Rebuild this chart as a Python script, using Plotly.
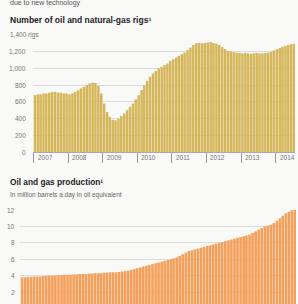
import plotly.graph_objects as go

# ---- data ----
years = [2007, 2008, 2009, 2010, 2011, 2012, 2013, 2014]
year_labels = ["2007", "2008", "2009", "2010", "2011", "2012", "2013", "2014"]

rigs = [
    680, 690, 690, 700, 700, 710, 720, 720, 710, 710, 700, 700,          # 2007
    690, 700, 720, 740, 760, 780, 800, 820, 830, 825, 790, 700,          # 2008
    580, 480, 420, 385, 380, 395, 430, 460, 500, 540, 580, 630,          # 2009
    680, 740, 800, 850, 900, 940, 970, 1000, 1020, 1040, 1060, 1090,     # 2010
    1110, 1130, 1150, 1170, 1190, 1220, 1250, 1280, 1300, 1305, 1300, 1305,  # 2011
    1310, 1315, 1305, 1295, 1280, 1255, 1230, 1210, 1205, 1195, 1190, 1185,  # 2012
    1180, 1185, 1180, 1175, 1180, 1185, 1180, 1180, 1185, 1190, 1200, 1215,  # 2013
    1230, 1245, 1260, 1270, 1280, 1290, 1295,                                # 2014
]

production = [
    3.8, 3.8, 3.85, 3.85, 3.9, 3.9, 3.9, 3.95, 3.95, 4.0, 4.0, 4.0,
    4.05, 4.05, 4.1, 4.1, 4.1, 4.15, 4.15, 4.2, 4.2, 4.2, 4.25, 4.25,
    4.3, 4.3, 4.3, 4.35, 4.35, 4.4, 4.4, 4.4, 4.45, 4.5, 4.55, 4.6,
    4.7, 4.8, 4.9, 5.0, 5.1, 5.2, 5.3, 5.4, 5.5, 5.6, 5.7, 5.8,
    5.9, 6.0, 6.1, 6.2, 6.4, 6.6, 6.8, 7.0, 7.1, 7.2, 7.3, 7.4,
    7.5, 7.6, 7.7, 7.8, 7.9, 8.0, 8.1, 8.2, 8.3, 8.4, 8.5, 8.6,
    8.7, 8.8, 8.9, 9.0, 9.2, 9.4, 9.6, 9.8, 10.0, 10.1, 10.2, 10.4,
    10.7, 11.0, 11.3, 11.6, 11.8, 12.0, 12.1,
]

rig_ticks = [0, 200, 400, 600, 800, 1000, 1200, 1400]
rig_tick_labels = ["0", "200", "400", "600", "800", "1,000", "1,200", "1,400 rigs"]
prod_ticks = [2, 4, 6, 8, 10, 12]
prod_tick_labels = ["2", "4", "6", "8", "10", "12"]

months = [f"{2007 + i // 12}-{i % 12 + 1:02d}-15" for i in range(len(rigs))]
months_p = [f"{2007 + i // 12}-{i % 12 + 1:02d}-15" for i in range(len(production))]

W, H = 298, 304
def py(px):
    return 1 - px / H

BG = "#f9f9f8"
GOLD = "#d5b65a"
ORANGE = "#f5a05a"
GRID = "#dcdcdc"
LABEL = "#777777"
FONT = "Liberation Sans"

fig = go.Figure()
fig.add_trace(go.Bar(x=months, y=rigs, marker=dict(color=GOLD, line=dict(width=0)),
                     xaxis="x", yaxis="y", hoverinfo="skip"))
fig.add_trace(go.Bar(x=months_p, y=production, marker=dict(color=ORANGE, line=dict(width=0)),
                     xaxis="x2", yaxis="y2", hoverinfo="skip"))

top_x = [33 / W, 295 / W]
top_y = [py(152), py(35)]
bot_x = [20 / W, 296 / W]
bot_y = [0, py(210)]

fig.update_layout(
    width=W, height=H,
    margin=dict(l=0, r=0, t=0, b=0),
    paper_bgcolor=BG, plot_bgcolor=BG,
    showlegend=False, bargap=0.06,
    font=dict(family=FONT, size=7, color=LABEL),
    xaxis=dict(domain=top_x, type="date", range=["2006-12-25", "2014-07-25"],
               showgrid=False, zeroline=False, showticklabels=False,
               ticks="outside", ticklen=10, tickcolor="#999", tickwidth=1,
               tickvals=[f"{y}-01-01" for y in years],
               anchor="y"),
    yaxis=dict(domain=top_y, range=[0, 1400], tickvals=rig_ticks,
               showticklabels=False, showgrid=True, gridcolor=GRID, gridwidth=1,
               zeroline=True, zerolinecolor="#aaa", zerolinewidth=1, anchor="x"),
    xaxis2=dict(domain=bot_x, type="date", range=["2006-12-25", "2014-07-25"],
                showgrid=False, zeroline=False, showticklabels=False, ticks="",
                anchor="y2"),
    yaxis2=dict(domain=bot_y, range=[12 - (304 - 210) / 8.2, 12], tickvals=prod_ticks,
                showticklabels=False, showgrid=True, gridcolor=GRID, gridwidth=1,
                zeroline=False, anchor="x2"),
)

ann = []
# partly visible text at top
ann.append(dict(text="due to new technology", x=8 / W, y=py(3.5), xref="paper", yref="paper",
                xanchor="left", yanchor="middle", showarrow=False,
                font=dict(size=7, color="#555", family=FONT)))
# titles
ann.append(dict(text="<b>Number of oil and natural-gas rigs¹</b>", x=8 / W, y=py(20),
                xref="paper", yref="paper", xanchor="left", yanchor="middle", showarrow=False,
                font=dict(size=8.5, color="#222", family=FONT)))
ann.append(dict(text="<b>Oil and gas production¹</b>", x=8 / W, y=py(182),
                xref="paper", yref="paper", xanchor="left", yanchor="middle", showarrow=False,
                font=dict(size=8.3, color="#222", family=FONT)))
ann.append(dict(text="In million barrels a day in oil equivalent", x=8 / W, y=py(195),
                xref="paper", yref="paper", xanchor="left", yanchor="middle", showarrow=False,
                font=dict(size=6.5, color="#666", family=FONT)))
# y tick labels top
for v, t in zip(rig_ticks, rig_tick_labels):
    if t.endswith("rigs"):
        ann.append(dict(text=t, x=8 / W, y=v, xref="paper", yref="y", xanchor="left",
                        yanchor="middle", showarrow=False, bgcolor=BG,
                        font=dict(size=6.5, color=LABEL)))
    else:
        ann.append(dict(text=t, x=28 / W, y=v, xref="paper", yref="y", xanchor="right",
                        yanchor="middle", showarrow=False, font=dict(size=6.5, color=LABEL)))
# y tick labels bottom
for v, t in zip(prod_ticks, prod_tick_labels):
    ann.append(dict(text=t, x=17 / W, y=v, xref="paper", yref="y2", xanchor="right",
                    yanchor="middle", showarrow=False, font=dict(size=6.5, color=LABEL)))
# x tick labels top
for y, t in zip(years, year_labels):
    ann.append(dict(text=t, x=f"{y}-01-01", y=py(157), xref="x", yref="paper",
                    xanchor="left", yanchor="middle", xshift=2, showarrow=False,
                    font=dict(size=6.5, color=LABEL)))
fig.update_layout(annotations=ann)

fig.write_html("out.html", config={"displayModeBar": False, "staticPlot": True},
               post_script="document.body.style.margin='0';document.body.style.overflow='hidden';")
